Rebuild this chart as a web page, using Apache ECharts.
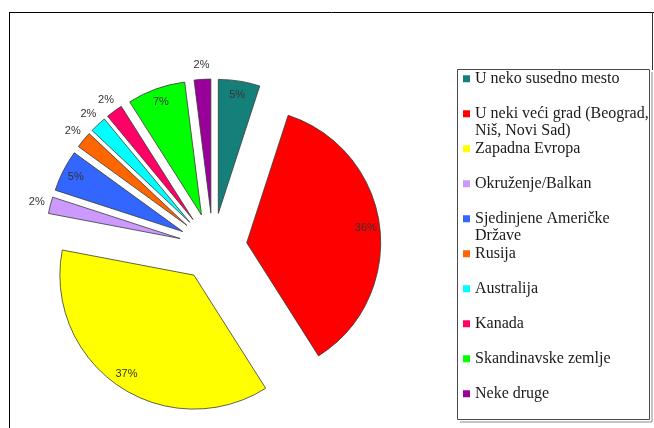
<!DOCTYPE html>
<html>
<head>
<meta charset="utf-8">
<script src="https://cdn.jsdelivr.net/npm/echarts@6/dist/echarts.min.js"></script>
<style>
  html, body { margin: 0; padding: 0; background: #ffffff; }
  #chart { width: 654px; height: 428px; }
</style>
</head>
<body>
<div id="chart"></div>
<script>
// Where people would move to (share of answers, %)
const categories = [
  'U neko susedno mesto',
  'U neki veći grad (Beograd,\nNiš, Novi Sad)',
  'Zapadna Evropa',
  'Okruženje/Balkan',
  'Sjedinjene Američke\nDržave',
  'Rusija',
  'Australija',
  'Kanada',
  'Skandinavske zemlje',
  'Neke druge'
];
const shares = [5, 36, 37, 2, 5, 2, 2, 2, 7, 2];
const colors = ['#15807a', '#ff0000', '#ffff00', '#cc99ff', '#3366ff',
                '#ff6600', '#00ffff', '#ff0066', '#00ff00', '#990099'];

const CENTER = [213, 247];
const RADIUS = 134;
const EXPLODE = 34;

const chart = echarts.init(document.getElementById('chart'), null, { renderer: 'canvas' });

// shared settings for the exploded pie and its label layers
const basePie = {
  type: 'pie',
  center: CENTER,
  startAngle: 90,
  clockwise: true,
  selectedMode: 'multiple',
  selectedOffset: EXPLODE,
  avoidLabelOverlap: false,
  emphasis: { disabled: true },
  labelLine: { show: false }
};

const labelFont = { color: '#333', fontSize: 11, fontFamily: 'Liberation Sans', formatter: '{c}%' };

function labelLayer(radius, showFn) {
  return Object.assign({}, basePie, {
    radius: radius,
    silent: true,
    z: 3,
    itemStyle: { color: 'rgba(0,0,0,0)', borderWidth: 0 },
    select: { itemStyle: { color: 'rgba(0,0,0,0)', borderWidth: 0 } },
    label: Object.assign({ position: 'inside' }, labelFont),
    data: categories.map((name, i) => ({
      name: name,
      value: shares[i],
      selected: true,
      label: { show: showFn(shares[i]) }
    }))
  });
}

// legend marker: small square sitting on the first text line of a two-line slot
const legendIcon = 'path://M0,0L0,0M0,5.25L7,5.25L7,12.25L0,12.25ZM7,35L7,35';

const option = {
  animation: false,
  backgroundColor: '#ffffff',
  legend: {
    orient: 'vertical',
    left: 463,
    top: 70,
    padding: 0,
    itemGap: 0,
    itemWidth: 7,
    itemHeight: 35,
    icon: legendIcon,
    itemStyle: { borderWidth: 0 },
    selectedMode: false,
    data: categories,
    formatter: name => (name.indexOf('\n') >= 0 ? name : name + '\n'),
    textStyle: {
      fontFamily: 'Liberation Serif',
      fontSize: 16,
      lineHeight: 17.5,
      color: '#1a1a1a'
    }
  },
  graphic: [
    // outer frame
    { type: 'line', shape: { x1: 9, y1: 12.5, x2: 654, y2: 12.5 }, style: { stroke: '#000', lineWidth: 1 } },
    { type: 'line', shape: { x1: 9.5, y1: 12, x2: 9.5, y2: 428 }, style: { stroke: '#000', lineWidth: 1 } },
    { type: 'line', shape: { x1: 652.5, y1: 12, x2: 652.5, y2: 70 }, style: { stroke: '#333', lineWidth: 1 } },
    // legend box with its shadow edge
    { type: 'rect', shape: { x: 457.5, y: 69.5, width: 192, height: 350 }, style: { fill: 'none', stroke: '#4a4a4a', lineWidth: 1 } },
    { type: 'polyline', shape: { points: [[652, 72], [652, 422], [460, 422]] }, style: { fill: 'none', stroke: '#8a8a8a', lineWidth: 1 } }
  ],
  series: [
    Object.assign({}, basePie, {
      radius: [0, RADIUS],
      z: 2,
      itemStyle: { borderColor: '#3a3a3a', borderWidth: 0.8 },
      select: { itemStyle: { borderColor: '#3a3a3a', borderWidth: 0.8 } },
      label: { show: false },
      data: categories.map((name, i) => ({
        name: name,
        value: shares[i],
        selected: true,
        itemStyle: { color: colors[i] }
      }))
    }),
    // value labels near the rim of the wider slices
    labelLayer([107, 127], v => v > 2),
    // value labels just outside the thin slices
    labelLayer([137, 153], v => v <= 2)
  ]
};

chart.setOption(option);
</script>
</body>
</html>
